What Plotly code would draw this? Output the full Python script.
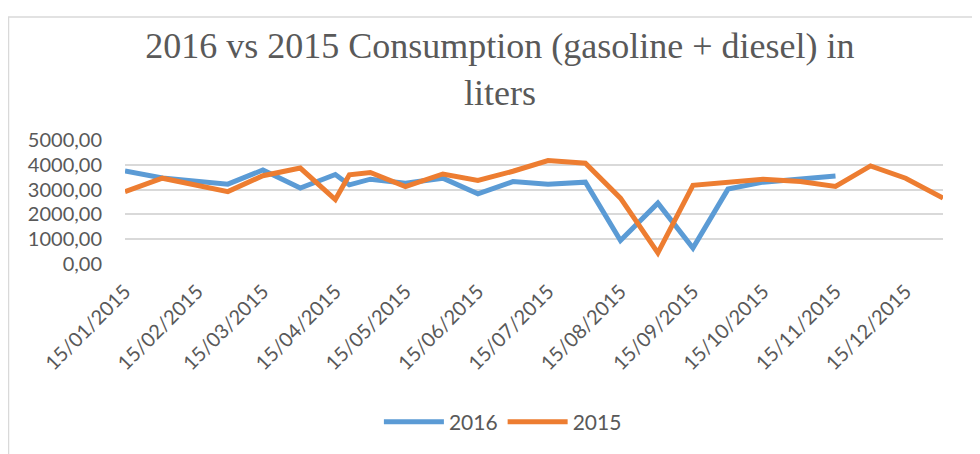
import plotly.graph_objects as go

dates = ["2015-01-15", "2015-01-31", "2015-02-28", "2015-03-15", "2015-03-31",
         "2015-04-15", "2015-04-21", "2015-04-30", "2015-05-15", "2015-05-31",
         "2015-06-15", "2015-06-30", "2015-07-15", "2015-07-31", "2015-08-15",
         "2015-08-31", "2015-09-15", "2015-09-30", "2015-10-15", "2015-10-31",
         "2015-11-15", "2015-11-30", "2015-12-15", "2015-12-31"]

values_2016 = [3750, 3470, 3220, 3790, 3060, 3610, 3190, 3420, 3260, 3460,
               2830, 3325, 3220, 3300, 950, 2455, 645, 3020, 3300, 3440,
               3550, None, None, None]

values_2015 = [2920, 3460, 2920, 3560, 3870, 2600, 3595, 3690, 3125, 3630,
               3370, 3740, 4170, 4065, 2655, 450, 3170, 3290, 3420, 3330,
               3130, 3955, 3460, 2655]

tick_dates = ["2015-01-15", "2015-02-15", "2015-03-15", "2015-04-15", "2015-05-15",
              "2015-06-15", "2015-07-15", "2015-08-15", "2015-09-15", "2015-10-15",
              "2015-11-15", "2015-12-15"]
tick_labels = ["15/01/2015", "15/02/2015", "15/03/2015", "15/04/2015", "15/05/2015",
               "15/06/2015", "15/07/2015", "15/08/2015", "15/09/2015", "15/10/2015",
               "15/11/2015", "15/12/2015"]

y_ticks = [0, 1000, 2000, 3000, 4000, 5000]

title_text = "2016 vs 2015 Consumption (gasoline + diesel) in<br>liters"

grey = "#595959"
W, H = 980, 454
ml, mr, mt, mb = 117, 45, 132, 198

fig = go.Figure()
fig.add_trace(go.Scatter(x=dates, y=values_2016, mode="lines", name="2016",
                         line=dict(color="#5B9BD5", width=5, shape="linear"),
                         connectgaps=False, cliponaxis=False))
fig.add_trace(go.Scatter(x=dates, y=values_2015, mode="lines", name="2015",
                         line=dict(color="#ED7D31", width=5, shape="linear"),
                         cliponaxis=False))

pw = W - ml - mr
ph = H - mt - mb
# chart-area border (light grey), extending past the right/bottom edges
fig.add_shape(type="rect", xref="paper", yref="paper",
              x0=(0.5 - ml) / pw, x1=(W + 20 - ml) / pw,
              y0=(H - mb - (H + 20)) / ph, y1=(H - mb - 9) / ph,
              line=dict(color="#D9D9D9", width=1.5), fillcolor="rgba(0,0,0,0)",
              layer="below")

fig.update_layout(
    width=W, height=H,
    margin=dict(l=ml, r=mr, t=mt, b=mb),
    paper_bgcolor="white", plot_bgcolor="white",
    separators=",.",
    title=dict(text=title_text, x=0.502, xref="container", xanchor="center",
               y=1 - 50 / H, yref="container", yanchor="top",
               font=dict(family="Liberation Serif", size=36, color=grey)),
    xaxis=dict(type="date", range=["2015-01-15", "2015-12-31"],
               tickvals=tick_dates, ticktext=tick_labels, tickangle=-45,
               showgrid=False, zeroline=False, showline=False,
               ticks="", ticklabelstandoff=11,
               tickfont=dict(family="Lato", size=20, color=grey)),
    yaxis=dict(range=[0, 5000], tickvals=y_ticks, tickformat=".2f",
               showgrid=True, gridcolor="#D9D9D9", gridwidth=2,
               zeroline=False, showline=False, ticks="",
               ticklabelstandoff=22,
               tickfont=dict(family="Lato", size=20, color=grey)),
    legend=dict(orientation="h", xref="container", yref="container",
                x=0.505, xanchor="center", y=1 - 414 / H, yanchor="middle",
                font=dict(family="Lato", size=21, color=grey),
                itemwidth=60),
    showlegend=True,
)

fig.write_html("out.html")
